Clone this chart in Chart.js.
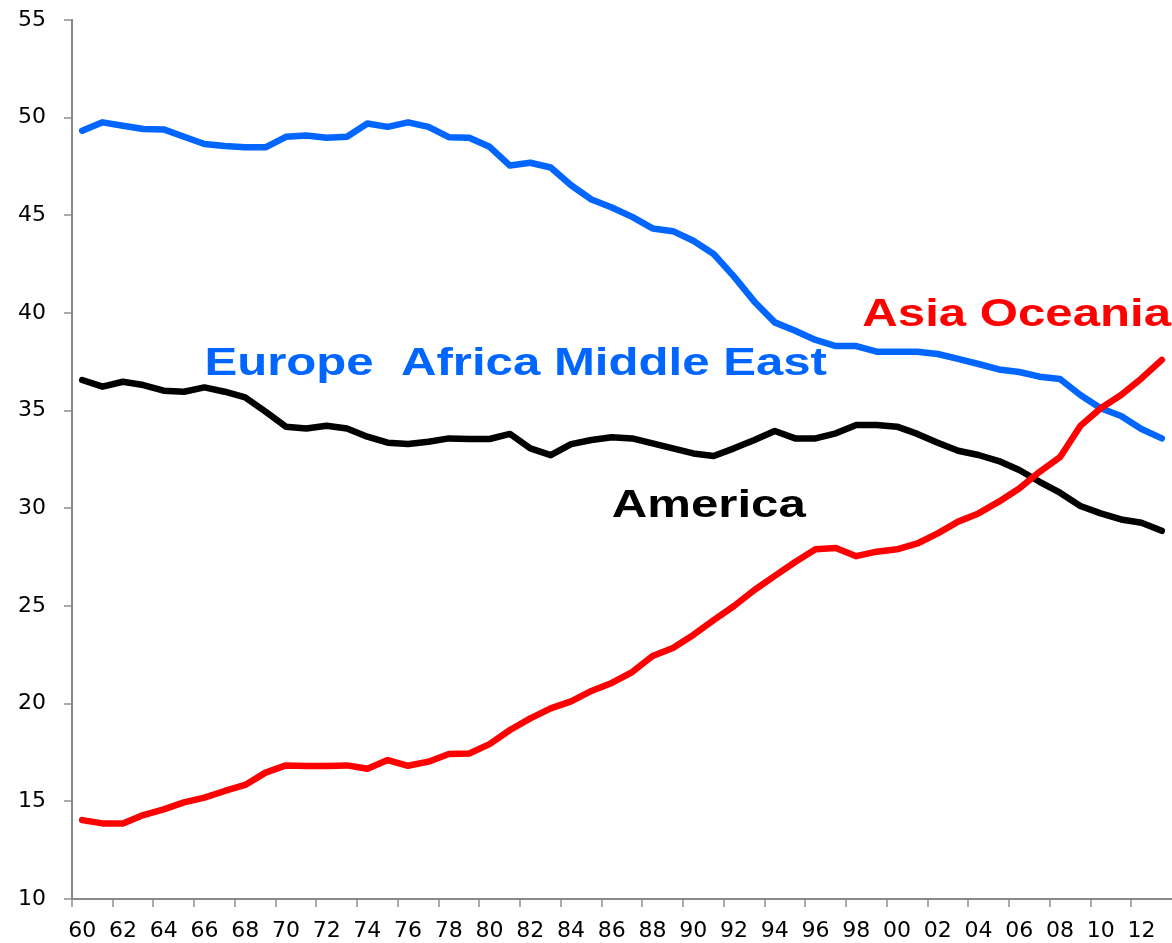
<!DOCTYPE html>
<html>
<head>
<meta charset="utf-8">
<script src="https://cdn.jsdelivr.net/npm/chart.js@4/dist/chart.umd.min.js"></script>
<style>
  body { margin: 0; background: #fff; }
  #wrap { width: 1172px; height: 943px; }
</style>
</head>
<body>
<div id="wrap"><canvas id="chart" width="1172" height="943"></canvas></div>
<script>
var years = ['60','61','62','63','64','65','66','67','68','69',
  '70','71','72','73','74','75','76','77','78','79',
  '80','81','82','83','84','85','86','87','88','89',
  '90','91','92','93','94','95','96','97','98','99',
  '00','01','02','03','04','05','06','07','08','09',
  '10','11','12','13'];

var europe = [49.33, 49.76, 49.59, 49.42, 49.40, 49.02, 48.65, 48.55, 48.48, 48.48,
  49.02, 49.09, 48.97, 49.02, 49.70, 49.53, 49.76, 49.53, 49.00, 48.97,
  48.51, 47.55, 47.69, 47.45, 46.54, 45.81, 45.40, 44.92, 44.33, 44.19,
  43.70, 43.02, 41.86, 40.58, 39.52, 39.09, 38.62, 38.31, 38.31, 38.02,
  38.02, 38.02, 37.90, 37.65, 37.39, 37.11, 36.98, 36.74, 36.62, 35.80,
  35.12, 34.73, 34.06, 33.58];

var america = [36.57, 36.23, 36.48, 36.31, 36.02, 35.97, 36.19, 35.97, 35.68, 34.95,
  34.18, 34.09, 34.23, 34.09, 33.67, 33.36, 33.29, 33.41, 33.58, 33.55,
  33.55, 33.81, 33.07, 32.72, 33.29, 33.50, 33.64, 33.58, 33.33, 33.07,
  32.81, 32.68, 33.07, 33.50, 33.96, 33.58, 33.58, 33.84, 34.27, 34.27,
  34.18, 33.81, 33.36, 32.95, 32.73, 32.42, 31.96, 31.36, 30.80, 30.12,
  29.74, 29.43, 29.26, 28.85];

var asia = [14.04, 13.87, 13.87, 14.30, 14.59, 14.95, 15.19, 15.53, 15.84, 16.47,
  16.84, 16.81, 16.81, 16.84, 16.67, 17.11, 16.82, 17.03, 17.42, 17.45,
  17.93, 18.65, 19.25, 19.76, 20.12, 20.65, 21.06, 21.62, 22.44, 22.85,
  23.52, 24.28, 25.00, 25.82, 26.54, 27.25, 27.90, 27.97, 27.55, 27.78,
  27.90, 28.20, 28.72, 29.32, 29.74, 30.34, 31.02, 31.87, 32.62, 34.22,
  35.12, 35.80, 36.65, 37.60];

// series names written on the plot, placed in data units (category index, value)
var notes = [
  { text: 'Europe  Africa Middle East', color: '#0066ff', at: 6, value: 36.83 },
  { text: 'America', color: '#000000', at: 26, value: 29.56 },
  { text: 'Asia Oceania', color: '#ff0000', at: 38.3, value: 39.34 }
];

var notesPlugin = {
  id: 'notes',
  afterDatasetsDraw: function(chart) {
    var ctx = chart.ctx,
      x = chart.scales.x,
      y = chart.scales.y;

    notes.forEach(function(note) {
      ctx.save();
      ctx.translate(x.getPixelForValue(note.at), y.getPixelForValue(note.value));
      ctx.scale(1.26, 1);
      ctx.font = 'bold 39px "Liberation Sans", Arial, sans-serif';
      ctx.fillStyle = note.color;
      ctx.textBaseline = 'alphabetic';
      ctx.textAlign = 'left';
      ctx.fillText(note.text, 0, 0);
      ctx.restore();
    });
  }
};

Chart.defaults.font.family = '"DejaVu Sans", Verdana, sans-serif';
Chart.defaults.font.size = 22;
Chart.defaults.color = '#000';

function line(data, color) {
  return {
    data: data,
    borderColor: color,
    backgroundColor: color,
    borderWidth: 6.5,
    pointRadius: 0,
    tension: 0,
    borderJoinStyle: 'round',
    borderCapStyle: 'round',
    fill: false
  };
}

new Chart(document.getElementById('chart').getContext('2d'), {
  type: 'line',
  data: {
    labels: years,
    datasets: [
      line(asia, '#ff0000'),
      line(europe, '#0066ff'),
      line(america, '#000000')
    ]
  },
  options: {
    responsive: false,
    animation: false,
    layout: { padding: { top: 20, left: 0, right: 0, bottom: 0 } },
    plugins: { legend: { display: false }, tooltip: { enabled: false } },
    scales: {
      x: {
        offset: true,
        border: { color: '#888', width: 2 },
        grid: {
          drawOnChartArea: false,
          offset: true,
          tickLength: 8,
          lineWidth: 2,
          color: function(c) { return c.index % 2 === 0 ? '#aaa' : 'rgba(0,0,0,0)'; }
        },
        ticks: {
          autoSkip: false,
          maxRotation: 0,
          padding: 11,
          font: { size: 22 },
          callback: function(value, index) {
            return index % 2 === 0 ? years[index] : '';
          }
        },
        afterFit: function(scale) {
          scale.height = 44;
          scale.paddingLeft = 0;
          scale.paddingRight = 0;
        }
      },
      y: {
        min: 10,
        max: 55,
        border: { color: '#888', width: 2 },
        grid: { drawOnChartArea: false, tickLength: 8, color: '#aaa', lineWidth: 2 },
        ticks: { stepSize: 5, padding: 18, font: { size: 22 } },
        afterFit: function(scale) {
          scale.width = 72;
          scale.paddingTop = 0;
          scale.paddingBottom = 0;
        }
      }
    }
  },
  plugins: [notesPlugin]
});
</script>
</body>
</html>
